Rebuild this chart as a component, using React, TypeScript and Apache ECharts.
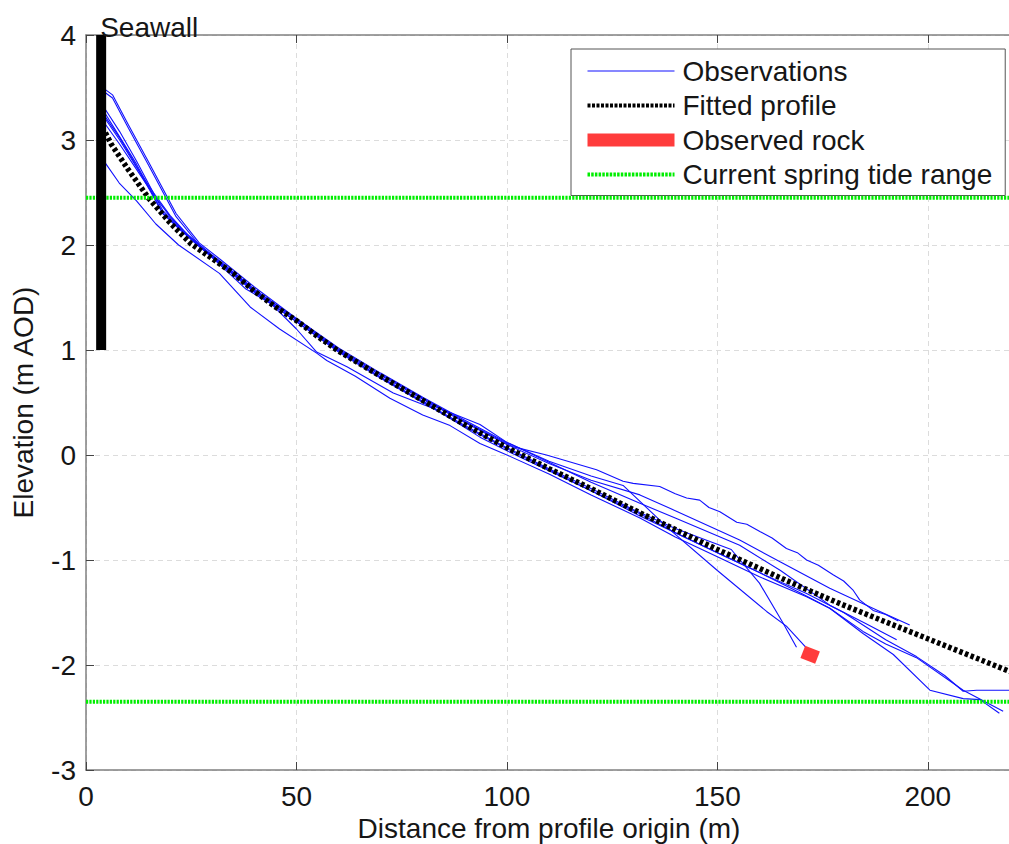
import React, { useEffect, useRef } from "react";
import * as echarts from "echarts";

// ---- Data ----
const X_MIN = 0;
const X_MAX = 220;
const Y_MIN = -3;
const Y_MAX = 4;

const SEAWALL_X = 3.6;
const SEAWALL_BOTTOM = 1;
const SEAWALL_TOP = 4;
const SEAWALL_TEXT = "Seawall";

const TIDE_HIGH = 2.45;
const TIDE_LOW = -2.35;

const ROCK = [
  [170.3, -1.875],
  [173.8, -1.93],
];

const FIT_X = [4.6, 6, 10, 15, 20, 25, 30, 35, 40, 45, 50, 55, 60, 65, 70, 80, 90, 100, 110, 120, 130, 140, 150, 160, 170, 180, 190, 200, 210, 220];
const FIT_Y = [3.07, 2.96, 2.72, 2.44, 2.21, 2.01, 1.87, 1.73, 1.56, 1.41, 1.28, 1.13, 0.99, 0.87, 0.75, 0.52, 0.29, 0.07, -0.13, -0.32, -0.52, -0.71, -0.9, -1.08, -1.26, -1.43, -1.59, -1.75, -1.91, -2.07];

const OBS_1 = [[4.6, 3.48], [6.3, 3.43], [10, 3.15], [15, 2.78], [21.4, 2.3], [26.9, 2.02], [32, 1.86], [40, 1.6], [50, 1.3], [60, 1.02], [70, 0.78], [80, 0.55], [90, 0.33], [100, 0.12], [110, -0.06], [120, -0.2], [127.6, -0.29], [138.7, -0.71], [150, -1.1], [161.7, -1.49], [166.4, -1.63], [171.2, -1.84]];
const OBS_2 = [[4.6, 3.45], [6.3, 3.4], [10, 3.12], [15, 2.75], [21.4, 2.27], [26.9, 2.0], [32, 1.84], [40, 1.58], [50, 1.29], [60, 1.01], [70, 0.77], [80, 0.54], [90, 0.32], [101.4, 0.08], [109.4, 0.0], [121.3, -0.14], [127.6, -0.25], [130, -0.27], [136.3, -0.3], [140, -0.37], [142.7, -0.41], [145.8, -0.43], [148, -0.5], [150.6, -0.54], [154.6, -0.64], [157, -0.66], [160.2, -0.73], [163, -0.79], [166.4, -0.89], [169, -0.93], [171.2, -1.0], [174, -1.05], [177.5, -1.14], [180, -1.2], [182.3, -1.29], [183.8, -1.38], [187, -1.48], [190, -1.52], [193, -1.58]];
const OBS_3 = [[4.6, 3.29], [8, 3.08], [12, 2.8], [18.2, 2.33], [23, 2.14], [30, 1.9], [40, 1.57], [50, 1.29], [60, 1.0], [70, 0.76], [80, 0.53], [90, 0.31], [100, 0.1], [110, -0.08], [120, -0.24], [131.6, -0.38], [140, -0.53], [155.3, -0.81], [165, -1.02], [176.7, -1.27], [188.6, -1.49], [195.7, -1.62]];
const OBS_4 = [[4.6, 3.22], [8, 3.02], [12, 2.75], [18.2, 2.3], [23, 2.12], [30, 1.89], [40, 1.56], [50, 1.27], [60, 0.99], [70, 0.74], [80, 0.51], [90, 0.28], [100, 0.07], [110, -0.13], [120, -0.32], [130, -0.52], [140, -0.7], [153.3, -0.9], [160, -1.22], [165.6, -1.6], [168.8, -1.83]];
const OBS_5 = [[4.6, 2.78], [7.9, 2.59], [12, 2.42], [16.6, 2.2], [22, 2.0], [31.7, 1.73], [39, 1.41], [46, 1.2], [54.8, 0.97], [57.2, 0.9], [64, 0.75], [72.2, 0.54], [80, 0.38], [86.5, 0.28], [93.6, 0.11], [100, 0.0], [110, -0.18], [120, -0.38], [131.6, -0.6], [140, -0.78], [150, -0.97], [160, -1.16], [171.2, -1.35], [176.7, -1.46], [184.6, -1.7], [191.8, -1.9], [200.5, -2.24], [208.4, -2.32], [212.4, -2.33], [217, -2.46]];
const OBS_6 = [[4.6, 3.25], [8, 3.03], [12, 2.77], [18.2, 2.31], [23, 2.13], [30, 1.88], [38, 1.58], [44, 1.44], [50, 1.2], [54.8, 0.98], [62, 0.84], [73, 0.59], [83.3, 0.43], [93.6, 0.17], [100, 0.04], [110, -0.15], [120, -0.34], [131.6, -0.58], [140, -0.74], [150, -0.93], [160, -1.12], [171.2, -1.32], [180, -1.5], [190, -1.76], [197.3, -1.92], [204, -2.1], [208.4, -2.25], [211.6, -2.24], [220, -2.24]];
const OBS_7 = [[4.6, 3.15], [8, 2.96], [12, 2.72], [16, 2.48], [20, 2.27], [25, 2.05], [30, 1.88], [40, 1.55], [50, 1.27], [60, 0.99], [70, 0.74], [80, 0.51], [93.6, 0.29], [100, 0.12], [110, -0.07], [120, -0.26], [131.6, -0.46], [140, -0.6], [155.3, -0.86], [165, -1.1], [176.7, -1.43], [185, -1.6], [192.6, -1.76]];
const OBS_8 = [[4.6, 3.2], [8, 3.0], [12, 2.74], [16, 2.5], [20, 2.28], [25, 2.06], [30, 1.89], [40, 1.56], [50, 1.27], [60, 0.98], [70, 0.73], [80, 0.5], [90, 0.27], [100, 0.06], [110, -0.14], [120, -0.34], [131.6, -0.56], [140, -0.74], [150, -0.93], [160, -1.12], [170, -1.32], [176.7, -1.46], [184.6, -1.68], [190, -1.8], [197.3, -1.93], [208.4, -2.24], [217.9, -2.44]];

const OBS_PROFILES = [OBS_1, OBS_2, OBS_3, OBS_4, OBS_5, OBS_6, OBS_7, OBS_8];

const LEGEND_NAMES = ["Observations", "Fitted profile", "Observed rock", "Current spring tide range"];

// ---- Styles ----
const FONT = "'Liberation Sans', Arial, Helvetica, sans-serif";
const TEXT_COLOR = "#161616";
const AXIS_COLOR = "#808080";
const GRID_COLOR = "#dcdcdc";
const BLUE = "#1010ff";
const GREEN = "#00ee00";
const RED = "#ff3c3c";

const OBS_WIDTH = 1.1;
const FIT_WIDTH = 5.5;
const ROCK_WIDTH = 13;
const TIDE_WIDTH = 4;
const FIT_DASH = [3.5, 2.5];
const TIDE_DASH = [2.2, 1.2];

export default function App() {
  const ref = useRef<HTMLDivElement>(null);

  useEffect(() => {
    if (!ref.current) return;
    const chart = echarts.init(ref.current, undefined, { renderer: "svg" });

    const fitData = FIT_X.map((x, i) => [x, FIT_Y[i]]);

    const axisCommon = {
      type: "value",
      axisLine: { show: true, onZero: false, lineStyle: { color: AXIS_COLOR, width: 1.5 } },
      axisTick: { show: true, inside: true, length: 8, lineStyle: { color: "#444", width: 1 } },
    };

    const series: any[] = [];
    OBS_PROFILES.forEach((p) => {
      series.push({
        name: "Observations",
        type: "line",
        data: p,
        symbol: "none",
        silent: true,
        z: 2,
        lineStyle: { color: BLUE, width: OBS_WIDTH },
        itemStyle: { color: BLUE },
      });
    });
    series.push({
      name: "Fitted profile",
      type: "line",
      data: fitData,
      symbol: "none",
      silent: true,
      z: 3,
      lineStyle: { color: "#000", width: FIT_WIDTH, type: FIT_DASH },
      itemStyle: { color: "#000" },
    });
    series.push({
      name: "Observed rock",
      type: "line",
      data: ROCK,
      symbol: "none",
      silent: true,
      z: 4,
      lineStyle: { color: RED, width: ROCK_WIDTH },
      itemStyle: { color: RED },
    });
    [TIDE_HIGH, TIDE_LOW].forEach((v) => {
      series.push({
        name: "Current spring tide range",
        type: "line",
        data: [
          [X_MIN, v],
          [X_MAX, v],
        ],
        symbol: "none",
        silent: true,
        z: 4,
        lineStyle: { color: GREEN, width: TIDE_WIDTH, type: TIDE_DASH },
        itemStyle: { color: GREEN },
      });
    });
    series.push({
      name: "Seawall",
      type: "line",
      data: [
        [SEAWALL_X, SEAWALL_BOTTOM],
        [SEAWALL_X, SEAWALL_TOP],
      ],
      symbol: "none",
      silent: true,
      z: 5,
      lineStyle: { color: "#000", width: 10, cap: "butt" },
      itemStyle: { color: "#000" },
    });

    chart.setOption({
      animation: false,
      backgroundColor: "#ffffff",
      textStyle: { fontFamily: FONT },
      grid: { left: 86, right: 0, top: 35, bottom: 74, containLabel: false, outerBoundsMode: "none" },
      legend: {
        data: [
          { name: LEGEND_NAMES[0], lineStyle: { width: OBS_WIDTH } },
          { name: LEGEND_NAMES[1], lineStyle: { width: 4, type: [3, 1.5] } },
          { name: LEGEND_NAMES[2], lineStyle: { width: ROCK_WIDTH, cap: "butt" } },
          { name: LEGEND_NAMES[3], lineStyle: { width: TIDE_WIDTH, type: [2.5, 1.2] } },
        ],
        orient: "vertical",
        left: 571,
        top: 49,
        itemWidth: 87,
        itemHeight: 14,
        itemGap: 6.5,
        padding: [8, 13, 7, 10],
        backgroundColor: "#ffffff",
        borderColor: "#555555",
        borderWidth: 1,
        borderRadius: 0,
        selectedMode: false,
        itemStyle: { opacity: 0, borderWidth: 0 },
        textStyle: { fontSize: 28, color: TEXT_COLOR, fontFamily: FONT, padding: [0, 0, 0, 3] },
      },
      xAxis: [
        {
          ...axisCommon,
          position: "bottom",
          min: X_MIN,
          max: X_MAX,
          interval: 50,
          axisLabel: { fontSize: 28, color: TEXT_COLOR, margin: 12, showMaxLabel: false, fontFamily: FONT },
          splitLine: { show: true, lineStyle: { color: GRID_COLOR, type: [5, 4], width: 1 } },
          name: "Distance from profile origin (m)",
          nameLocation: "middle",
          nameGap: 44,
          nameTextStyle: { fontSize: 28, color: TEXT_COLOR, fontFamily: FONT },
        },
        {
          ...axisCommon,
          position: "top",
          min: X_MIN,
          max: X_MAX,
          interval: 50,
          axisLabel: { show: false },
          splitLine: { show: false },
        },
      ],
      yAxis: {
        ...axisCommon,
        min: Y_MIN,
        max: Y_MAX,
        interval: 1,
        axisLabel: { fontSize: 28, color: TEXT_COLOR, margin: 10, fontFamily: FONT },
        splitLine: { show: true, lineStyle: { color: GRID_COLOR, type: [5, 4], width: 1 } },
        name: "Elevation (m AOD)",
        nameLocation: "middle",
        nameGap: 49,
        nameRotate: 90,
        nameTextStyle: { fontSize: 28, color: TEXT_COLOR, fontFamily: FONT },
      },
      series,
    });

    const pt = chart.convertToPixel({ gridIndex: 0 }, [SEAWALL_X, SEAWALL_TOP]) as number[];
    chart.setOption({
      graphic: [
        {
          type: "text",
          x: pt[0] - 1,
          y: pt[1] + 6,
          silent: true,
          z: 10,
          style: {
            text: SEAWALL_TEXT,
            fontSize: 28,
            fontFamily: FONT,
            fill: TEXT_COLOR,
            textAlign: "left",
            textVerticalAlign: "bottom",
          },
        },
      ],
    });

    return () => {
      chart.dispose();
    };
  }, []);

  return (
    <div
      style={{
        position: "fixed",
        left: 0,
        top: 0,
        width: 1009,
        height: 844,
        overflow: "hidden",
        background: "#fff",
      }}
    >
      <div ref={ref} style={{ width: 1012, height: 844 }} />
    </div>
  );
}
